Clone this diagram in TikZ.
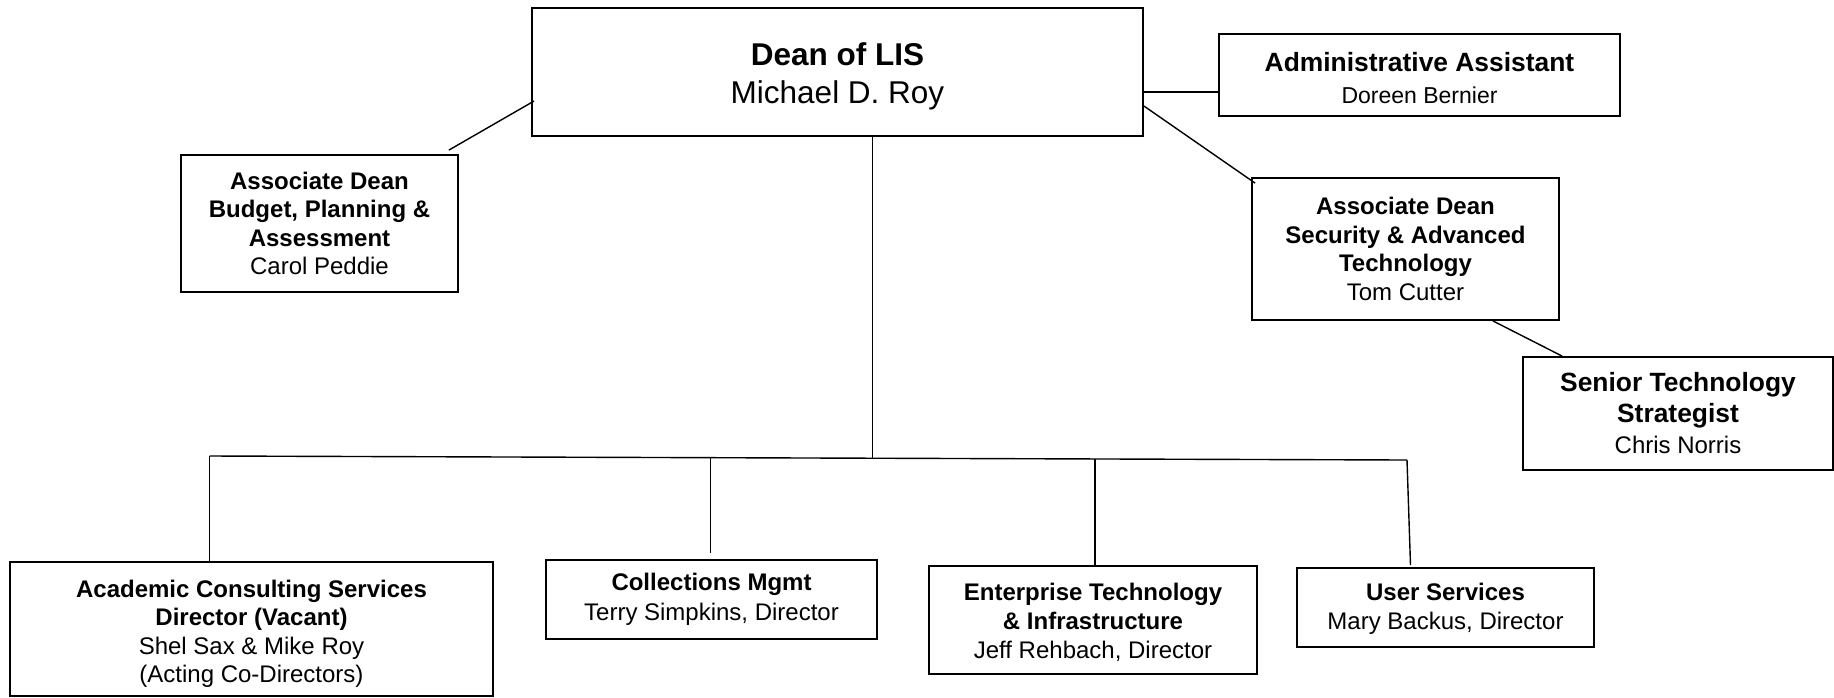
\documentclass[tikz,border=0pt]{standalone}
\usepackage{fontspec}
\setmainfont{Liberation Sans}
\newcommand{\myup}[1]{\rule{0pt}{#1}}
\begin{document}
\begin{tikzpicture}[x=1pt,y=-1pt,
  box/.style={draw=black, line width=1.8pt, fill=white, inner sep=0pt, align=center,
    font=\fontsize{24}{28.6}\selectfont},
  conn/.style={draw=black, line width=1.4pt}]
\useasboundingbox (0,0) rectangle (1834,697);

% boxes
\node[box, minimum width=611, minimum height=128, font=\fontsize{31.5}{38}\selectfont] (dean) at (837.5,72)
  {\myup{32pt}\textbf{Dean of LIS}\\Michael D. Roy};
\node[box, minimum width=401, minimum height=82, font=\fontsize{26.4}{32}\selectfont] (admin) at (1419.5,75)
  {\myup{24.5pt}\textbf{Administrative Assistant}\\{\fontsize{23}{32}\selectfont Doreen Bernier}};
\node[box, minimum width=277, minimum height=137] (budget) at (319.5,223.5)
  {\textbf{Associate Dean}\\\textbf{Budget, Planning \&}\\\textbf{Assessment}\\Carol Peddie};
\node[box, minimum width=307, minimum height=142] (secur) at (1405.5,249)
  {\textbf{Associate Dean}\\\textbf{Security \& Advanced}\\\textbf{Technology}\\Tom Cutter};
\node[box, minimum width=310, minimum height=113, font=\fontsize{26.4}{31}\selectfont] (senior) at (1678,413.5)
  {\textbf{Senior Technology}\\\textbf{Strategist}\\{\fontsize{24}{30}\selectfont Chris Norris}};
\node[box, minimum width=483, minimum height=134] (acad) at (251.5,629)
  {\myup{27pt}\textbf{Academic Consulting Services}\\\textbf{Director (Vacant)}\\Shel Sax \& Mike Roy\\(Acting Co-Directors)};
\node[box, minimum width=331, minimum height=79, font=\fontsize{24}{30}\selectfont] (coll) at (711.5,599.5)
  {\textbf{Collections Mgmt}\\Terry Simpkins, Director};
\node[box, minimum width=328, minimum height=108] (ent) at (1093,620)
  {\myup{22pt}\textbf{Enterprise Technology}\\\textbf{\& Infrastructure}\\Jeff Rehbach, Director};
\node[box, minimum width=297, minimum height=79, font=\fontsize{24}{28.6}\selectfont] (user) at (1445.5,607.5)
  {\myup{20pt}\textbf{User Services}\\Mary Backus, Director};

% bus coordinates
\coordinate (busL) at (209.5,456);
\coordinate (b2) at (710.7,456.7);
\coordinate (bD) at (872.5,457.7);
\coordinate (b3) at (1094.8,459);
\coordinate (busR) at (1407,460);

% connectors
\draw[conn] ([shift={(3,29)}]dean.west) -- ([shift={(-10,-4)}]budget.north east);
\draw[conn] ([shift={(0,20)}]dean.east) -- ([shift={(0,17)}]admin.west);
\draw[conn] ([shift={(0,34)}]dean.east) -- ([shift={(4,6)}]secur.north west);
\draw[conn] ([shift={(-67,0)}]secur.south east) -- ([shift={(40,0)}]senior.north west);
\draw[conn] ([xshift=35]dean.south) -- (bD);
\draw[conn] (busL) -- (busR);
\draw[conn] (busL) -- (busL |- acad.north);
\draw[conn] (b2) -- ([shift={(-0.8,-6)}]coll.north);
\draw[conn] (b3) -- ([shift={(1.8,0)}]ent.north);
\draw[conn] (busR) -- ([shift={(-35,-2)}]user.north);
\end{tikzpicture}
\end{document}
